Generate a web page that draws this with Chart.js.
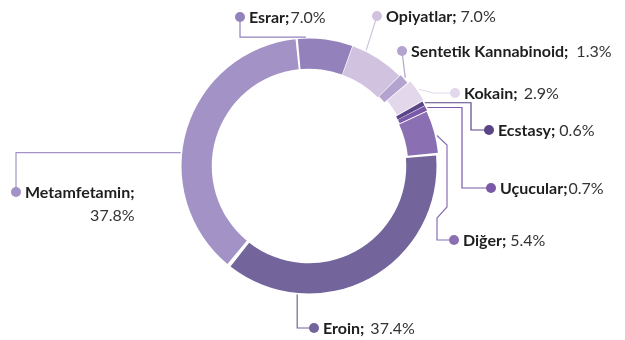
<!DOCTYPE html>
<html lang="tr">
<head>
<meta charset="utf-8">
<title>Madde dağılımı</title>
<script src="https://cdn.jsdelivr.net/npm/chart.js@4.4.1/dist/chart.umd.min.js"></script>
<style>
  html, body { margin: 0; padding: 0; background: #fff; }
  #wrap { position: relative; width: 625px; height: 340px; }
</style>
</head>
<body>
<div id="wrap"><canvas id="chart" width="625" height="340"></canvas></div>
<script>
// dilimler saat yönünde, Opiyatlar'dan başlayarak
const categories = ['Opiyatlar', 'Sentetik Kannabinoid', 'Kokain', 'Ecstasy', 'Uçucular', 'Diğer', 'Eroin', 'Metamfetamin', 'Esrar'];
const shares = [7.0, 1.3, 2.9, 0.6, 0.7, 5.4, 37.4, 37.8, 7.0];

const sliceColors = ['#d1c2df', '#b5a3cf', '#e3d8eb', '#5b4588', '#7a59a9', '#8a70b3', '#73659b', '#a292c5', '#9281bb'];
const sliceOffsets = [0, 3, 10, 6, 6, 5, 0, 0, 0];

const NAME_FONT = 'bold 16px Lato';
const VALUE_FONT = '16px Lato';

// etiket yerleşimi: nokta, değer boşluğu, çizginin dilime değdiği yer ve kırılma noktaları
const labelLayout = {
  'Esrar':                { dot: [240, 17], gap: 1, frac: 0.15, route: (a, d) => [[d[0], a[1]]] },
  'Opiyatlar':            { dot: [377, 16], gap: 4, frac: 0.25, route: () => [] },
  'Sentetik Kannabinoid': { dot: [402, 51], gap: 8, frac: 0.5,  route: () => [] },
  'Kokain':               { dot: [455, 93], gap: 6, frac: 0.5,  route: (a, d) => [[433, d[1]]] },
  'Ecstasy':              { dot: [489, 130], gap: 4, frac: 0.5, route: (a, d) => [[471, a[1]], [471, d[1]]] },
  'Uçucular':             { dot: [491, 188], gap: 1, frac: 0.5, route: (a, d) => [[462, a[1]], [462, d[1]]] },
  'Diğer':                { dot: [454, 240], gap: 4, frac: 0.6, route: () => [[447, 145], [447, 207], [437, 218], [437, 240]] },
  'Eroin':                { dot: [314, 328], gap: 6, frac: 0.75, route: (a, d) => [[a[0], d[1]]] },
  'Metamfetamin':         { dot: [16, 192], gap: 0, frac: 0.42, wrap: true, route: (a, d) => [[d[0], a[1]]] }
};

const fmtPct = (v) => v.toFixed(1) + '%';

const calloutPlugin = {
  id: 'callouts',
  afterDraw(chart) {
    const ctx = chart.ctx;
    const meta = chart.getDatasetMeta(0);
    meta.data.forEach((arc, i) => {
      const name = categories[i];
      const lay = labelLayout[name];
      const color = sliceColors[i];
      const p = arc.getProps(['x', 'y', 'startAngle', 'endAngle', 'outerRadius'], true);
      const ang = p.startAngle + lay.frac * (p.endAngle - p.startAngle);
      const r = p.outerRadius + sliceOffsets[i] / 2 + 3;
      const a = [p.x + Math.cos(ang) * r, p.y + Math.sin(ang) * r];
      const pts = [a, ...lay.route(a, lay.dot), lay.dot];

      ctx.save();
      ctx.strokeStyle = color;
      ctx.lineWidth = 1.2;
      ctx.beginPath();
      ctx.moveTo(pts[0][0], pts[0][1]);
      pts.slice(1).forEach(q => ctx.lineTo(q[0], q[1]));
      ctx.stroke();

      ctx.fillStyle = color;
      ctx.beginPath();
      ctx.arc(lay.dot[0], lay.dot[1], 5, 0, Math.PI * 2);
      ctx.fill();

      const tx = lay.dot[0] + 9;
      const ty = lay.dot[1] + 1;
      ctx.textBaseline = 'middle';
      ctx.font = NAME_FONT;
      ctx.fillStyle = '#1e1e1e';
      const label = name + ';';
      ctx.fillText(label, tx, ty);
      const w = ctx.measureText(label).width;

      ctx.font = VALUE_FONT;
      ctx.fillStyle = '#333';
      if (lay.wrap) {
        ctx.textAlign = 'right';
        ctx.fillText(fmtPct(shares[i]), tx + w, ty + 23);
      } else {
        ctx.fillText(fmtPct(shares[i]), tx + w + lay.gap, ty);
      }
      ctx.restore();
    });
  }
};

new Chart(document.getElementById('chart'), {
  type: 'doughnut',
  data: {
    labels: categories,
    datasets: [{
      data: shares,
      backgroundColor: sliceColors,
      offset: sliceOffsets,
      borderWidth: 0
    }]
  },
  options: {
    responsive: false,
    animation: false,
    rotation: 20,
    radius: 126,
    cutout: '76%',
    spacing: 3,
    layout: { padding: { left: 0, right: 7, top: 0, bottom: 8 } },
    plugins: {
      legend: { display: false },
      tooltip: { enabled: false }
    }
  },
  plugins: [calloutPlugin]
});
</script>
</body>
</html>
